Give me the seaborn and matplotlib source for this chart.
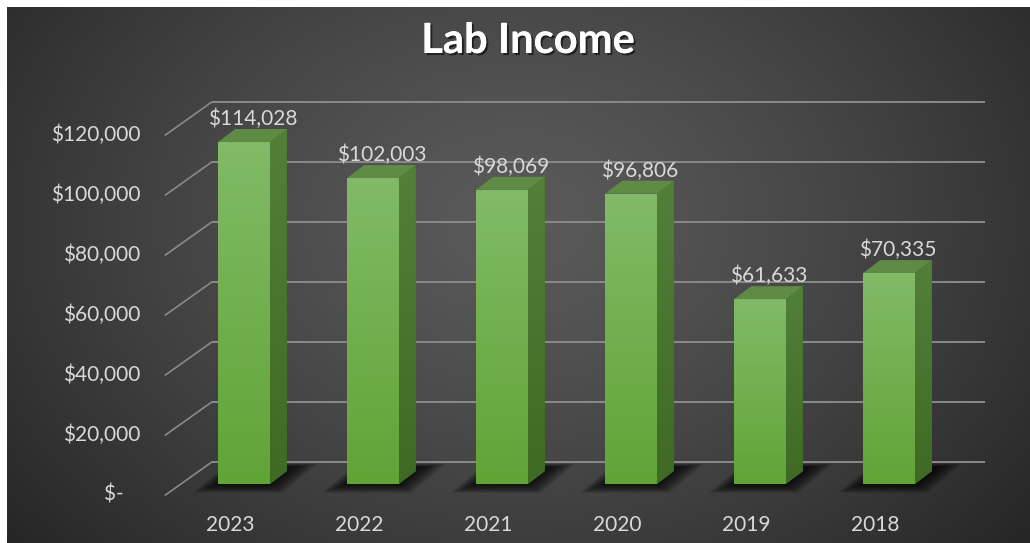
import numpy as np
import matplotlib
matplotlib.use("Agg")
import matplotlib.pyplot as plt
import matplotlib.patheffects as pe
from matplotlib.patches import Polygon
from matplotlib.colors import to_rgb
import seaborn as sns

# Data
years = ["2023", "2022", "2021", "2020", "2019", "2018"]
income = [114028, 102003, 98069, 96806, 61633, 70335]
grid_values = [0, 20000, 40000, 60000, 80000, 100000, 120000]
grid_labels = ["$-   ", "$20,000", "$40,000", "$60,000", "$80,000", "$100,000", "$120,000"]
title = "Lab Income"

sns.set_theme(style="white")
plt.rcParams["font.family"] = ["Lato", "DejaVu Sans"]

TEXT = "#d9d9d9"
GRID = "#8a8a8a"

# Oblique depth offsets (category units, value units) relative to the bar front plane
SIDE_DX, SIDE_DY = 0.132, 4300      # bar depth
FRONT_DX, FRONT_DY = -0.125, -3700  # front edge of the floor
BACK_DX, BACK_DY = 0.235, 7330      # back wall
FLOOR_X0, FLOOR_X1 = -0.485, 5.51

fig = plt.figure(figsize=(10.3, 5.43), dpi=100, facecolor="white")

# Dark radial background panel
bg = fig.add_axes([7 / 1030, 0, 1023 / 1030, 536 / 543])
H, W = 536, 1023
yy, xx = np.mgrid[0:H, 0:W]
d = np.sqrt(((xx - 510) / 560.0) ** 2 + ((yy - 215) / 420.0) ** 2)
d = np.clip(d, 0, 1.25) / 1.25
c_in = np.array(to_rgb("#5a5a5a"))
c_out = np.array(to_rgb("#222222"))
t = d[..., None] ** 1.3
img = c_in * (1 - t) + c_out * t
bg.imshow(img, aspect="auto", interpolation="bilinear")
bg.set_axis_off()

ax = fig.add_axes([0, 0, 1, 1])
ax.set_facecolor("none")

sns.barplot(x=years, y=income, order=years, width=0.4, color="#6aab41",
            saturation=1, ax=ax, zorder=3, linewidth=0)

# Back wall gridlines and floor diagonals
for g in grid_values:
    ax.plot([FLOOR_X0 + BACK_DX, FLOOR_X1 + BACK_DX], [g + BACK_DY, g + BACK_DY],
            color=GRID, lw=1.4, zorder=0.5, solid_capstyle="butt")
    ax.plot([FLOOR_X0 + FRONT_DX, FLOOR_X0 + BACK_DX], [g + FRONT_DY, g + BACK_DY],
            color=GRID, lw=1.2, zorder=0.5)

def vgrad(top, bottom, n=64):
    a = np.array(to_rgb(top))
    b = np.array(to_rgb(bottom))
    s = np.linspace(0, 1, n)[:, None]
    return (a * (1 - s) + b * s)[:, None, :]

front_grad = vgrad("#82ba67", "#61a436")
side_grad = vgrad("#527f39", "#3e6a24")

for i, p in enumerate(list(ax.patches)):
    x0 = p.get_x()
    w = p.get_width()
    v = p.get_height()
    x1 = x0 + w

    # soft floor shadow around the base
    layers = 16
    for k in range(layers):
        f = 1 - k / layers
        e = 0.2 * f
        ev = 3000 * f
        shadow = Polygon([(x0 - e, -ev), (x1 + e * 0.5, -ev),
                          (x1 + SIDE_DX * 1.3 + e, SIDE_DY * 1.3 + ev * 0.4),
                          (x0 + SIDE_DX * 1.3 - e * 0.5, SIDE_DY * 1.3 + ev * 0.4)],
                         closed=True, facecolor="black", edgecolor="none",
                         alpha=0.065, zorder=0.8)
        ax.add_patch(shadow)

    # front face gradient
    im = ax.imshow(front_grad, extent=[x0, x1, 0, v], aspect="auto",
                   zorder=3.1, interpolation="bilinear")
    im.set_clip_path(p)

    # side face
    side = Polygon([(x1, 0), (x1 + SIDE_DX, SIDE_DY), (x1 + SIDE_DX, v + SIDE_DY), (x1, v)],
                   closed=True, facecolor="#466f2d", edgecolor="none", zorder=3)
    ax.add_patch(side)
    ims = ax.imshow(side_grad, extent=[x1, x1 + SIDE_DX, 0, v + SIDE_DY], aspect="auto",
                    zorder=3.05, interpolation="bilinear")
    ims.set_clip_path(side)

    # top face
    top = Polygon([(x0, v), (x1, v), (x1 + SIDE_DX, v + SIDE_DY), (x0 + SIDE_DX, v + SIDE_DY)],
                  closed=True, facecolor="#5f8c45", edgecolor="none", zorder=3.2)
    ax.add_patch(top)

    # value label
    ax.text(x0 + w / 2 + SIDE_DX / 2, v + SIDE_DY - 100, f"${v:,.0f}",
            ha="center", va="bottom", color=TEXT, fontsize=15, zorder=5)

    # category label on the front floor edge
    ax.text(x0 + w / 2 - 0.11, -13600, years[i], ha="center", va="center",
            color=TEXT, fontsize=15, zorder=5)

# value axis labels on the front plane
for g, lab in zip(grid_values, grid_labels):
    ax.text(-0.806, g - 3650, lab, ha="right", va="center", color=TEXT, fontsize=15)

fig.text(528 / 1030, 1 - 41 / 543, title, ha="center", va="center", color="white",
         fontsize=30, fontweight="bold",
         path_effects=[pe.withSimplePatchShadow(offset=(1.5, -1.5), shadow_rgbFace="black",
                                                alpha=0.55), pe.Normal()])

ax.set_xlim(-1.8915, 6.093)
ax.set_ylim(-19667, 161333)
ax.set_axis_off()

fig.savefig("out.png", dpi=100, facecolor="white")
